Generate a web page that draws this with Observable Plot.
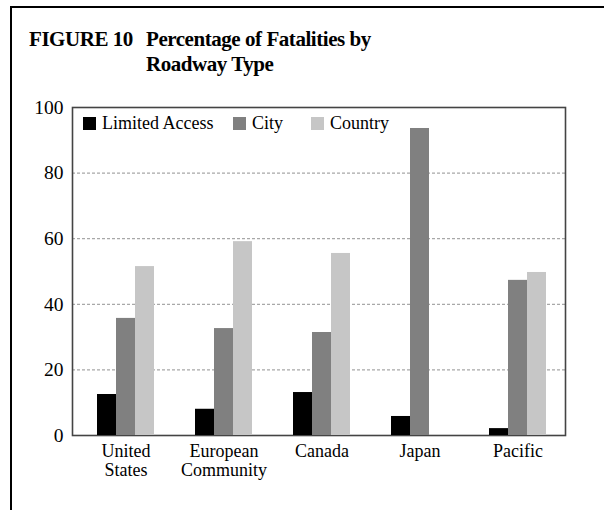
<!DOCTYPE html>
<html>
<head>
<meta charset="utf-8">
<script src="https://cdn.jsdelivr.net/npm/d3@7"></script>
<script src="https://cdn.jsdelivr.net/npm/@observablehq/plot@0.6"></script>
<style>
  html, body { margin: 0; padding: 0; background: #fff; }
  #fig { position: relative; width: 604px; height: 510px; overflow: hidden; font-family: "Liberation Serif", "DejaVu Serif", serif; color: #000; }
  #border { position: absolute; left: 10px; top: 6px; width: 600px; height: 510px; border-top: 2px solid #000; border-left: 2px solid #000; }
  .layer { position: absolute; left: 0; top: 0; }
  .title { position: absolute; font-weight: bold; font-size: 21px; line-height: 25px; white-space: nowrap; letter-spacing: -0.45px; }
  .leg { position: absolute; top: 114px; height: 18px; display: flex; align-items: center; font-size: 18px; white-space: nowrap; }
  .leg .sw { width: 13px; height: 13px; margin-right: 6px; }
</style>
</head>
<body>
<div id="fig">
  <div id="border"></div>
  <div class="title" style="left:29px; top:27px;">FIGURE 10</div>
  <div class="title" style="left:146px; top:27px;">Percentage of Fatalities by<br>Roadway Type</div>
</div>
<script>
// ---- data ----
const regions = ["United States", "European Community", "Canada", "Japan", "Pacific"];
const regionLabels = ["United\nStates", "European\nCommunity", "Canada", "Japan", "Pacific"];
const types = ["Limited Access", "City", "Country"];
const limitedAccess = [12.5, 8.0, 13.1, 5.8, 2.1];
const city = [35.7, 32.6, 31.4, 93.6, 47.3];
const country = [51.5, 59.1, 55.5, 0, 49.7];
const colors = ["#000000", "#808080", "#c6c6c6"];
const yTicks = [0, 20, 40, 60, 80, 100];
const gridTicks = [20, 40, 60, 80];

const series = [limitedAccess, city, country];
const rows = [];
regions.forEach((r, i) => types.forEach((t, j) => rows.push({region: r, type: t, value: series[j][i]})));

const W = 604, H = 510;
const margins = {marginLeft: 72, marginRight: 39, marginTop: 107, marginBottom: 75};
const font = {fontFamily: "'Liberation Serif', 'DejaVu Serif', serif", fontSize: "18px", background: "transparent", color: "#000", overflow: "visible"};

// background layer: grid, y axis, frame
const back = Plot.plot({
  width: W, height: H, ...margins,
  style: font,
  x: {domain: [0, 1], axis: null},
  y: {domain: [0, 100], axis: null},
  marks: [
    Plot.ruleY(gridTicks, {stroke: "#a8a8a8", strokeWidth: 1.3, strokeDasharray: "3,2"}),
    Plot.axisY(yTicks, {tickSize: 0, tickPadding: 9, label: null, fontSize: 19.5}),
    Plot.frame({stroke: "#444", strokeWidth: 1.6})
  ]
});
back.classList.add("layer");

// bars layer: faceted by region
const bars = Plot.plot({
  width: W, height: H, ...margins,
  style: font,
  fx: {domain: regions, paddingInner: 0.42, paddingOuter: 0.219, align: 0.558, axis: null},
  x: {domain: types, padding: 0, axis: null},
  y: {domain: [0, 100], axis: null},
  color: {domain: types, range: colors},
  marks: [
    Plot.barY(rows, {fx: "region", x: "type", y: "value", fill: "type"}),
    Plot.axisFx({anchor: "bottom", tickSize: 0, tickPadding: 7, label: null, lineHeight: 1.1,
                 tickFormat: d => regionLabels[regions.indexOf(d)]})
  ]
});
bars.classList.add("layer");

const fig = document.getElementById("fig");
fig.appendChild(back);
fig.appendChild(bars);

// legend (inside the plot area)
const legendX = [83, 233, 311];
types.forEach((t, i) => {
  const d = document.createElement("div");
  d.className = "leg";
  d.style.left = legendX[i] + "px";
  d.innerHTML = `<span class="sw" style="background:${colors[i]}"></span><span>${t}</span>`;
  fig.appendChild(d);
});
</script>
</body>
</html>
